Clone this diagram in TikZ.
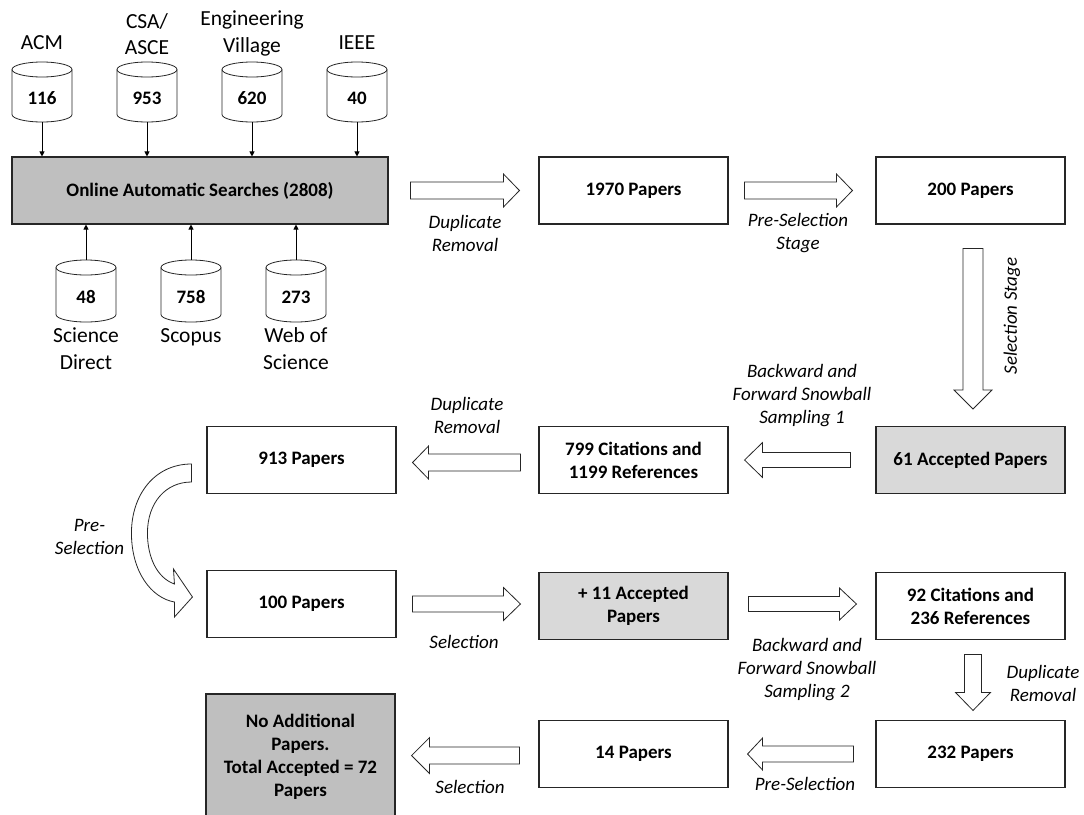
\documentclass[tikz,border=0pt]{standalone}
\usepackage{fontspec}
\setmainfont{Carlito}
\usetikzlibrary{arrows.meta,calc}

\definecolor{boxgray}{HTML}{BFBFBF}
\definecolor{accgray}{HTML}{D9D9D9}

\tikzset{
  stage/.style={draw=black!85, line width=1.1pt, fill=white, minimum width=189pt,
    minimum height=67pt, inner sep=2pt, align=center,
    font=\fontsize{19}{23}\selectfont\bfseries},
  result/.style={stage, fill=accgray},
  note/.style={align=center, inner sep=0pt, font=\fontsize{19}{23}\selectfont\itshape},
  dbname/.style={align=center, inner sep=0pt, font=\fontsize{21.5}{26.5}\selectfont},
  dbcount/.style={minimum width=60pt, minimum height=60pt, inner sep=0pt, outer sep=0pt,
    text height=24pt, text depth=0pt, font=\fontsize{19}{23}\selectfont\bfseries},
  drumline/.style={draw=black!85, line width=0.8pt},
  feed/.style={draw=black, line width=0.8pt, -{Triangle[width=5pt,length=5pt]}},
  blockarrow/.style={draw=black!85, line width=0.8pt, fill=white, line join=miter},
  ba shaft/.store in=\bashaft, ba head/.store in=\bahead, ba len/.store in=\balen,
  ba shaft=8.5pt, ba head=16.5pt, ba len=16pt,
}

% database drum drawn around a count node
\newcommand\drum[1]{%
  \draw[drumline] ([yshift=-7.5pt]#1.north west) -- ([yshift=7.5pt]#1.south west)
    arc[start angle=180, end angle=360, x radius=30pt, y radius=7.5pt]
    -- ([yshift=-7.5pt]#1.north east);
  \draw[drumline] ([yshift=-7.5pt]#1.north) ellipse[x radius=30pt, y radius=7.5pt];}

% hollow block arrows: tail point, tip point
\newcommand\rightblock[3][]{%
  \path[blockarrow,#1] let \p1=(#2), \p2=(#3) in
    (\x1,\y1+\bashaft) -- (\x2-\balen,\y1+\bashaft) -- (\x2-\balen,\y1+\bahead)
    -- (\x2,\y1) -- (\x2-\balen,\y1-\bahead) -- (\x2-\balen,\y1-\bashaft)
    -- (\x1,\y1-\bashaft) -- cycle;}
\newcommand\leftblock[3][]{%
  \path[blockarrow,#1] let \p1=(#2), \p2=(#3) in
    (\x1,\y1+\bashaft) -- (\x2+\balen,\y1+\bashaft) -- (\x2+\balen,\y1+\bahead)
    -- (\x2,\y1) -- (\x2+\balen,\y1-\bahead) -- (\x2+\balen,\y1-\bashaft)
    -- (\x1,\y1-\bashaft) -- cycle;}
\newcommand\downblock[3][]{%
  \path[blockarrow,#1] let \p1=(#2), \p2=(#3) in
    (\x1-\bashaft,\y1) -- (\x1-\bashaft,\y2+\balen) -- (\x1-\bahead,\y2+\balen)
    -- (\x1,\y2) -- (\x1+\bahead,\y2+\balen) -- (\x1+\bashaft,\y2+\balen)
    -- (\x1+\bashaft,\y1) -- cycle;}

\begin{document}
\begin{tikzpicture}[x=1pt, y=-1pt]
\path[fill=white, use as bounding box] (0,0) rectangle (1084,814);

% ---- sources ----
\node[dbcount] (db116) at (42,92) {116};
\node[dbcount] (db953) at (147,92) {953};
\node[dbcount] (db620) at (252,92) {620};
\node[dbcount] (db40)  at (357,92) {40};
\node[dbcount, minimum height=62pt] (db48)  at (86,291) {48};
\node[dbcount, minimum height=62pt] (db758) at (191,291) {758};
\node[dbcount, minimum height=62pt] (db273) at (296,291) {273};
\drum{db116}\drum{db953}\drum{db620}\drum{db40}
\drum{db48}\drum{db758}\drum{db273}

\node[dbname] (nacm)  at (42,43)   {ACM};
\node[dbname] (nasce) at (147,34)  {CSA/\\ASCE};
\node[dbname] (nev)   at (252,33.5){Engineering\\Village};
\node[dbname] (nieee) at (357,43)  {IEEE};
\node[dbname] (nsd)   at (86,348.5){Science\\Direct};
\node[dbname] (nsco)  at (191,337) {Scopus};
\node[dbname] (nwos)  at (296,348.5){Web of\\Science};

% ---- stages ----
\node[stage, fill=boxgray, minimum width=376pt] (searches) at (200,190.5)
  {Online Automatic Searches (2808)};
\node[stage]  (p1970)  at (633.5,190.5) {1970 Papers};
\node[stage]  (p200)   at (970.5,190.5) {200 Papers};
\node[result] (acc61)  at (970.5,460)   {61 Accepted Papers};
\node[stage]  (cit799) at (633.5,460)   {799 Citations and\\1199 References};
\node[stage]  (p913)   at (301.5,460)   {913 Papers};
\node[stage]  (p100)   at (301.5,604)   {100 Papers};
\node[result] (acc11)  at (633.5,606)   {+ 11 Accepted\\Papers};
\node[stage]  (cit92)  at (970.5,606)   {92 Citations and\\236 References};
\node[stage]  (p232)   at (970.5,754)   {232 Papers};
\node[stage]  (p14)    at (633.5,754)   {14 Papers};
\node[stage, fill=boxgray, minimum height=126pt] (noadd) at (300.5,757)
  {No Additional\\Papers.\\Total Accepted = 72\\Papers};

% ---- source feeds ----
\foreach \d in {db116,db953,db620,db40}
  \draw[feed] (\d.south) -- (\d.south |- searches.north);
\foreach \d in {db48,db758,db273}
  \draw[feed] (\d.north) -- (\d.north |- searches.south);

% ---- process arrows ----
\rightblock{[xshift=22pt]searches.east}{[xshift=-19pt]p1970.west}
\rightblock{[xshift=16pt]p1970.east}{[xshift=-23pt]p200.west}
\downblock[ba shaft=10pt, ba head=19pt, ba len=19pt]
  {[xshift=2.5pt, yshift=-24pt]p200.south}{[xshift=2.5pt, yshift=17pt]acc61.north}
\leftblock[ba shaft=7.5pt, ba head=17.5pt, ba len=18pt]
  {[xshift=-25pt]acc61.west}{[xshift=16pt]cit799.east}
\leftblock{[xshift=-18pt, yshift=-2.5pt]cit799.west}{[xshift=16pt]p913.east}
\rightblock[ba shaft=8pt, ba len=17pt]
  {[xshift=16pt]p100.east}{[xshift=-18pt]acc11.west}
\rightblock[ba shaft=7.5pt, ba head=16pt, ba len=17pt]
  {[xshift=20pt, yshift=2pt]acc11.east}{[xshift=-19pt]cit92.west}
\downblock[ba head=17.5pt, ba len=18pt]
  {[xshift=2.5pt, yshift=-14.5pt]cit92.south}{[xshift=2.5pt, yshift=9.5pt]p232.north}
\leftblock[ba shaft=8pt, ba head=16pt, ba len=15pt]
  {[xshift=-22pt]p232.west}{[xshift=19pt]p14.east}
\leftblock[ba head=18pt, ba len=18pt]
  {[xshift=-19pt, yshift=-1.5pt]p14.west}{[xshift=16pt]noadd.east}

% curved arrow from 913 Papers down to 100 Papers
\begin{scope}[shift={(p913.west)}]
  \path[blockarrow] (-15,4) .. controls (-52,4) and (-75,35) .. (-75,73)
    .. controls (-75,112) and (-55,138) .. (-32,142)
    -- (-32,157) -- (-14,137) -- (-33,109) -- (-32,124)
    .. controls (-49,118) and (-59,98) .. (-59,73)
    .. controls (-59,43) and (-41,22) .. (-15,22) -- cycle;
\end{scope}

% ---- step labels ----
\node[note] (ldup1) at (465,233.5) {Duplicate\\Removal};
\node[note] (lpre1) at (798,233.5) {Pre-Selection\\Stage};
\node[note, rotate=90] (lsel1) at (1012,316) {Selection Stage};
\node[note] (lbf1)  at (802,395.5) {Backward and\\Forward Snowball\\Sampling 1};
\node[note] (ldup2) at (467,415.5) {Duplicate\\Removal};
\node[note] (lpre2) at (89.5,536.5) {Pre-\\Selection};
\node[note] (lsel2) at (464,642) {Selection};
\node[note] (lbf2)  at (807,669.5) {Backward and\\Forward Snowball\\Sampling 2};
\node[note] (ldup3) at (1043,683) {Duplicate\\Removal};
\node[note] (lpre3) at (805,784) {Pre-Selection};
\node[note] (lsel3) at (470,787) {Selection};
\end{tikzpicture}
\end{document}
